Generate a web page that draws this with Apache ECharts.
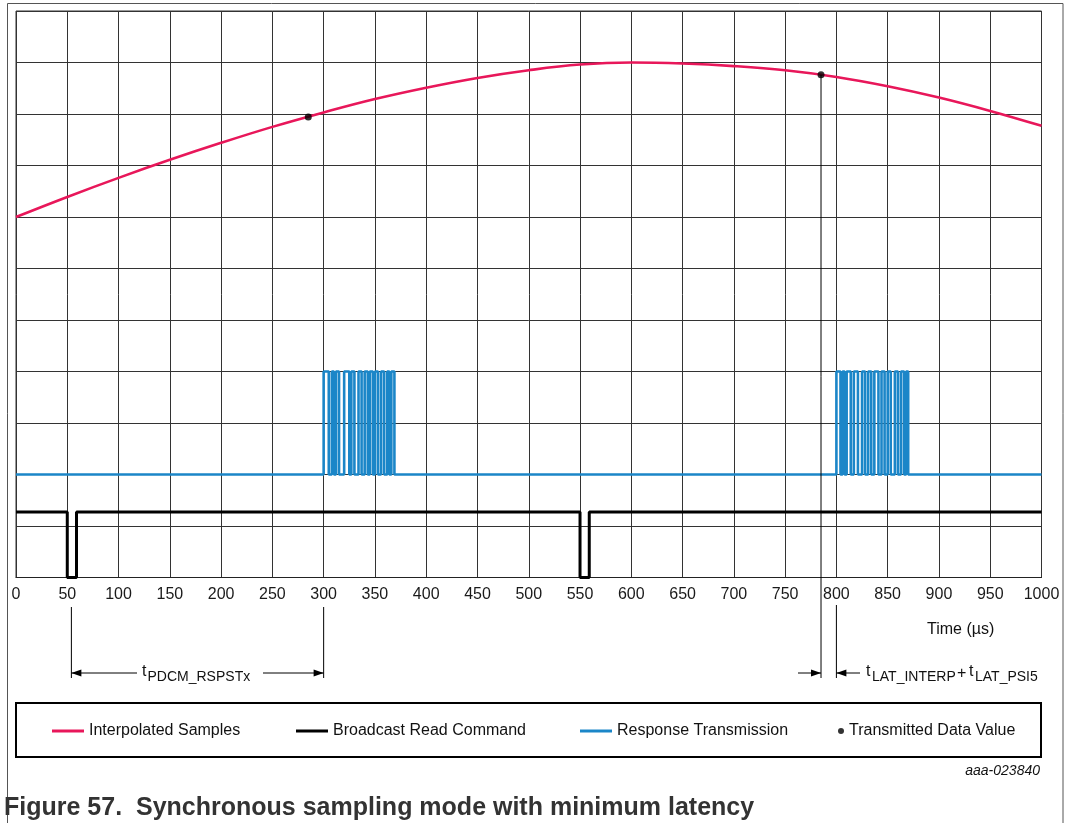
<!DOCTYPE html>
<html>
<head>
<meta charset="utf-8">
<script src="https://cdn.jsdelivr.net/npm/echarts@6/dist/echarts.min.js"></script>
<style>
html,body{margin:0;padding:0;background:#fff;}
#chart{width:1069px;height:823px;}
</style>
</head>
<body>
<div id="chart"></div>
<script>
// ---- data ----
const xTickLabels = ['0','50','100','150','200','250','300','350','400','450','500','550','600','650','700','750','800','850','900','950','1000'];
const curveX = [0,50,100,150,200,250,300,350,400,450,500,550,600,650,700,750,800,850,900,950,1000];
const curveY = [7.00,7.39,7.76,8.11,8.44,8.75,9.03,9.29,9.51,9.70,9.85,9.96,10.0,9.98,9.93,9.85,9.72,9.54,9.32,9.06,8.77];
const cmdHigh = 1.27;
const cmdLow = 0;
const cmdPulses = [[50,59],[550,559]];
const respLow = 2;
const respHigh = 4;
const respPulses = [
  [300,305],[308,310],[312,315],[320,325],[327,330],[334,337],[340,343],[345,348],[350,353],[356,359],[362,364],[366,369],
  [800,804],[806,808],[810,814],[817,821],[825,828],[831,834],[837,841],[844,847],[850,853],[857,860],[863,866],[868,870]
];
const sampleX = [285,785];
const sampleY = [8.94,9.76];
const rspMarkers = [54,300];
const latMarkers = [785,800];

const FONT = '"Liberation Sans", Arial, sans-serif';

const redData = curveX.map((x,i)=>[x, curveY[i]]);
const blackData = (function(){
  const d = [[0, cmdHigh]];
  cmdPulses.forEach(p => { d.push([p[0], cmdHigh],[p[0], cmdLow],[p[1], cmdLow],[p[1], cmdHigh]); });
  d.push([1000, cmdHigh]);
  return d;
})();
const blueData = (function(){
  const d = [[0, respLow]];
  respPulses.forEach(p => { d.push([p[0], respLow],[p[0], respHigh],[p[1], respHigh],[p[1], respLow]); });
  d.push([1000, respLow]);
  return d;
})();
const dotData = sampleX.map((x,i)=>[x, sampleY[i]]);

const chart = echarts.init(document.getElementById('chart'), null, {renderer:'canvas'});
const legendBase = {
  top: 723, padding: 0, itemHeight: 3, itemWidth: 32, icon: 'rect',
  textStyle: {fontSize: 16, color: '#111', fontFamily: FONT},
  selectedMode: false
};
chart.setOption({
  animation: false,
  backgroundColor: '#fff',
  grid: {left: 16, right: 27.5, top: 11, bottom: 245.5, show: true, borderColor: '#333', borderWidth: 1},
  xAxis: {
    type: 'value', min: 0, max: 1000, interval: 50,
    axisLine: {show: true, lineStyle: {color: '#222', width: 1}},
    axisTick: {show: false},
    axisLabel: {fontSize: 16, color: '#1a1a1a', fontFamily: FONT, margin: 9,
      formatter: v => xTickLabels[Math.round(v/50)]},
    splitLine: {show: true, lineStyle: {color: '#333', width: 1}}
  },
  yAxis: {
    type: 'value', min: 0, max: 11, interval: 1,
    axisLine: {show: false}, axisTick: {show: false}, axisLabel: {show: false},
    splitLine: {show: true, lineStyle: {color: '#333', width: 1}}
  },
  legend: [
    Object.assign({}, legendBase, {left: 52, data: ['Interpolated Samples']}),
    Object.assign({}, legendBase, {left: 296, data: ['Broadcast Read Command']}),
    Object.assign({}, legendBase, {left: 580, data: ['Response Transmission']}),
    Object.assign({}, legendBase, {left: 838, icon: 'circle', itemWidth: 6, itemHeight: 6, data: ['Transmitted Data Value']})
  ],
  series: [
    {name: 'Broadcast Read Command', type: 'line', data: blackData, showSymbol: false, symbol: 'none',
      lineStyle: {color: '#000', width: 3}, itemStyle: {color: '#000'}, z: 3},
    {name: 'Response Transmission', type: 'line', data: blueData, showSymbol: false, symbol: 'none',
      lineStyle: {color: '#1b86c8', width: 2.6}, itemStyle: {color: '#1b86c8'}, z: 3},
    {name: 'Interpolated Samples', type: 'line', data: redData, smooth: 0.4, showSymbol: false, symbol: 'none',
      lineStyle: {color: '#e8175a', width: 2.6}, itemStyle: {color: '#e8175a'}, z: 4},
    {name: 'Transmitted Data Value', type: 'scatter', data: dotData, symbolSize: 7,
      itemStyle: {color: '#000'}, z: 6}
  ]
});

// annotations computed from the chart's own scales
const px = v => chart.convertToPixel({gridIndex: 0}, [v, 0])[0];
const dotPix = chart.convertToPixel({gridIndex: 0}, dotData[1]);
const arrowY = 673;
function line(x1,y1,x2,y2,w){ return {type:'line', shape:{x1,y1,x2,y2}, style:{stroke:'#000', lineWidth:w||1}, z:10}; }
function head(x, y, dir){
  return {type:'polygon', shape:{points:[[x,y],[x-dir*10,y-3.5],[x-dir*10,y+3.5]]}, style:{fill:'#000'}, z:10};
}
function txt(x, y, s, size, extra){
  return {type:'text', x, y, style:Object.assign({text:s, fontSize:size, fontFamily:FONT, fill:'#111', textVerticalAlign:'middle'}, extra||{}), z:10};
}
const a1 = px(rspMarkers[0]), a2 = px(rspMarkers[1]);
const l1 = px(latMarkers[0]), l2 = px(latMarkers[1]);
const g = [
  {type:'rect', shape:{x:7.5, y:3.5, width:1055.5, height:840}, style:{fill:'none', stroke:'#555', lineWidth:1}, z:0},
  {type:'rect', shape:{x:16, y:703, width:1025, height:54}, style:{fill:'none', stroke:'#000', lineWidth:2}, z:10},
  line(a1, 607, a1, 678), line(a2, 607, a2, 678),
  line(a1, arrowY, 137, arrowY), head(a1, arrowY, -1),
  line(263, arrowY, a2, arrowY), head(a2, arrowY, 1),
  txt(142, arrowY - 1, 't', 16),
  txt(147.5, arrowY + 4, 'PDCM_RSPSTx', 14),
  line(dotPix[0], dotPix[1], dotPix[0], 678), line(l2, 605, l2, 678),
  line(798, arrowY, l1, arrowY), head(l1, arrowY, 1),
  line(l2, arrowY, 860, arrowY), head(l2, arrowY, -1),
  txt(866, arrowY - 1, 't', 16),
  txt(872, arrowY + 4, 'LAT_INTERP', 14),
  txt(957, arrowY + 1, '+', 16),
  txt(969, arrowY - 1, 't', 16),
  txt(975, arrowY + 4, 'LAT_PSI5', 14),
  txt(927, 630, 'Time (µs)', 16),
  txt(1040, 771, 'aaa-023840', 14, {textAlign:'right', fontStyle:'italic'}),
  txt(4, 808, 'Figure 57.  Synchronous sampling mode with minimum latency', 25, {fontWeight:'bold', fill:'#333'})
];
chart.setOption({graphic: g});
</script>
</body>
</html>
